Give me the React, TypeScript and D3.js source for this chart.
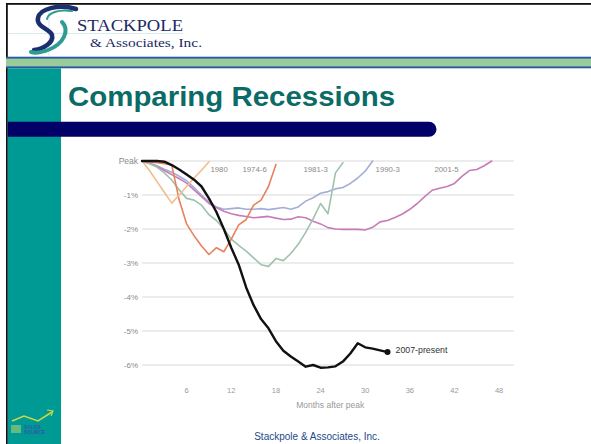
import React from 'react';
import * as d3 from 'd3';

// months after the employment peak -> % change from peak (one value per month)
const rec1974 = [0, -0.03, -0.05, -0.08, -0.12, -1.15, -1.85, -2.2, -2.5, -2.75, -2.55, -2.67, -2.3, -1.88, -1.72, -1.3, -1.15, -0.75, -0.1];
const rec1980 = [0, -0.28, -0.6, -0.92, -1.24, -1.0, -0.75, -0.5, -0.27, -0.02];
const rec1981 = [0, -0.08, -0.18, -0.35, -0.56, -0.85, -1.1, -1.15, -1.3, -1.58, -1.75, -2.0, -2.3, -2.48, -2.65, -2.85, -3.05, -3.1, -2.87, -2.93, -2.72, -2.45, -2.1, -1.7, -1.25, -1.55, -0.35, -0.05];
const rec1990 = [0, -0.06, -0.14, -0.24, -0.33, -0.45, -0.58, -0.78, -1.0, -1.2, -1.35, -1.42, -1.4, -1.38, -1.42, -1.42, -1.4, -1.43, -1.4, -1.37, -1.42, -1.35, -1.18, -1.08, -0.95, -0.9, -0.82, -0.78, -0.66, -0.5, -0.3, 0];
const rec2001 = [0, -0.07, -0.16, -0.28, -0.4, -0.52, -0.65, -0.85, -1.05, -1.25, -1.37, -1.48, -1.55, -1.6, -1.63, -1.67, -1.65, -1.63, -1.68, -1.72, -1.71, -1.64, -1.67, -1.77, -1.85, -1.96, -2.0, -2.01, -2.01, -2.01, -2.03, -1.95, -1.79, -1.75, -1.66, -1.56, -1.42, -1.25, -1.05, -0.86, -0.8, -0.75, -0.66, -0.45, -0.28, -0.25, -0.14, 0];
const rec2007 = [0, 0, 0, -0.02, -0.12, -0.25, -0.4, -0.55, -0.75, -1.1, -1.5, -2.0, -2.55, -3.05, -3.72, -4.24, -4.65, -4.92, -5.3, -5.58, -5.75, -5.9, -6.05, -6.0, -6.08, -6.07, -6.04, -5.9, -5.66, -5.36, -5.48, -5.52, -5.57, -5.62];

const seriesNames = ['1990-3', '2001-5', '1981-3', '1974-6', '1980'];
const seriesValues = [rec1990, rec2001, rec1981, rec1974, rec1980];
const seriesColors = ['#a4aed8', '#c77cb8', '#9fc2ad', '#e8825c', '#f3bd8c'];
// month where each label starts
const labelMonths = [31.4, 39.3, 21.7, 13.5, 9.2];

const xTicks = [6, 12, 18, 24, 30, 36, 42, 48];
const yTicks = [0, -1, -2, -3, -4, -5, -6];
const yTickLabels = ['Peak', '-1%', '-2%', '-3%', '-4%', '-5%', '-6%'];

const W = 591;
const H = 444;
const sans = '"Liberation Sans", Arial, Helvetica, sans-serif';
const serif = '"Liberation Serif", "Times New Roman", serif';

export default function App() {
  const x = d3.scaleLinear().domain([0, 50]).range([142, 514]);
  const y = d3.scaleLinear().domain([-6, 0]).range([365, 161]);
  const line = d3.line<number>().x((d, i) => x(i)).y(d => y(d));

  const lastIdx = rec2007.length - 1;

  return (
    <svg width={W} height={H} viewBox={`0 0 ${W} ${H}`}
      style={{ position: 'absolute', left: 0, top: 0, background: '#fff', display: 'block' }}>
      {/* slide frame */}
      <rect x={6} y={3} width={W - 6} height={1.8} fill="#111" />
      <rect x={6} y={3} width={1.8} height={H - 3} fill="#111" />

      {/* logo guide lines */}
      <line x1={8} x2={183} y1={33.5} y2={33.5} stroke="#cfe6e6" strokeWidth={0.8} />
      <line x1={49} x2={49} y1={5} y2={56} stroke="#cfe6e6" strokeWidth={0.8} />

      {/* swoosh */}
      <path d="M76 9 C60 4 40 8 38 18 C36 27 50 29 52 35 C54 42 44 49 34 50"
        fill="none" stroke="#1b2f6e" strokeWidth={4.5} strokeLinecap="round" />
      <path d="M62 22 C70 30 64 44 48 50 C40 53 34 53 31 52"
        fill="none" stroke="#2f9c94" strokeWidth={4} strokeLinecap="round" />
      <path d="M72 11 C58 9 48 13 47 19" fill="none" stroke="#2f9c94" strokeWidth={2} strokeLinecap="round" />
      <text x={77} y={31} fontFamily={serif} fontSize={17} fill="#1b2a64"
        textLength={106} lengthAdjust="spacingAndGlyphs">STACKPOLE</text>
      <text x={90} y={46.5} fontFamily={serif} fontSize={13.5} fill="#1b2a64"
        textLength={112} lengthAdjust="spacingAndGlyphs">&amp; Associates, Inc.</text>

      {/* header band */}
      <rect x={6} y={56.7} width={W - 6} height={11.6} fill="#2a58a6" />
      <rect x={6} y={58.6} width={W - 6} height={7.8} fill="#99cc99" />

      {/* side bar */}
      <rect x={7.8} y={68.3} width={53.2} height={H - 68.3} fill="#009a94" />

      {/* title */}
      <text x={68} y={106} fontFamily={sans} fontWeight="bold" fontSize={28} fill="#0b6b66"
        textLength={327} lengthAdjust="spacingAndGlyphs">Comparing Recessions</text>

      {/* navy rule */}
      <path d="M7.8 121.7 H429 A7.5 7.5 0 0 1 429 136.7 H7.8 Z" fill="#000066" />

      {/* gridlines and y labels */}
      {yTicks.map((t, i) => (
        <g key={t}>
          <line x1={x(0)} x2={x(50)} y1={y(t)} y2={y(t)} stroke="#d9d9d9" strokeWidth={1} />
          <text x={x(0) - 4} y={y(t)} dy="0.35em" textAnchor="end" fontFamily={sans}
            fontSize={i === 0 ? 8.5 : 8} fill="#8a8a8a">{yTickLabels[i]}</text>
        </g>
      ))}

      {/* x ticks */}
      {xTicks.map(t => (
        <text key={t} x={x(t)} y={393} textAnchor="middle" fontFamily={sans} fontSize={7.5} fill="#9a9a9a">{t}</text>
      ))}
      <text x={x(25.3)} y={408} textAnchor="middle" fontFamily={sans} fontSize={8.5} fill="#999">Months after peak</text>

      {/* recession lines */}
      {seriesValues.map((vals, i) => (
        <path key={seriesNames[i]} d={line(vals) || ''} fill="none" stroke={seriesColors[i]}
          strokeWidth={1.6} strokeLinejoin="round" strokeLinecap="round" />
      ))}
      {seriesNames.map((n, i) => (
        <text key={n} x={x(labelMonths[i])} y={y(-0.24)} dy="0.35em" fontFamily={sans} fontSize={7.8} fill="#8a8a8a">{n}</text>
      ))}

      <path d={line(rec2007) || ''} fill="none" stroke="#111" strokeWidth={2.4}
        strokeLinejoin="round" strokeLinecap="round" />
      <circle cx={x(lastIdx)} cy={y(rec2007[lastIdx])} r={3} fill="#111" />
      <text x={x(lastIdx) + 8} y={y(rec2007[lastIdx])} dy="0.1em" fontFamily={sans} fontSize={8.8} fill="#333">2007-present</text>

      {/* bottom-left mark */}
      <polyline points="12,421 24,416 38,421 52,412" fill="none" stroke="#c8d84a" strokeWidth={1.5} />
      <path d="M47 410 L53 411 L51 416" fill="none" stroke="#c8d84a" strokeWidth={1.2} />
      <rect x={11} y={425} width={10} height={8} fill="#7fc07a" opacity={0.8} />
      <text x={24} y={428.5} fontFamily={sans} fontSize={5} fontWeight="bold" fill="#2d5aa8">SALES</text>
      <text x={24} y={434} fontFamily={sans} fontSize={5} fontWeight="bold" fill="#2d5aa8">SOURCE</text>

      {/* footer */}
      <text x={317} y={439.5} textAnchor="middle" fontFamily={sans} fontSize={10} fill="#24478a">Stackpole &amp; Associates, Inc.</text>
    </svg>
  );
}
